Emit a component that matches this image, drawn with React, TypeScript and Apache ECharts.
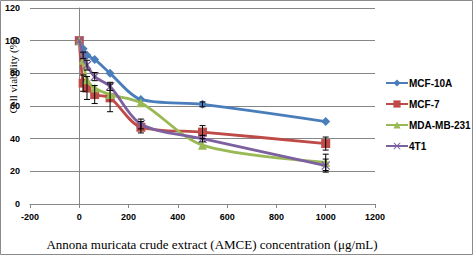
import React, { useEffect, useRef } from "react";
import * as echarts from "echarts";

const concentrations = [0, 15.6, 31.25, 62.5, 125, 250, 500, 1000];
const seriesNames = ["MCF-10A", "MCF-7", "MDA-MB-231", "4T1"];
const mcf10a = [100, 95, 91, 88.5, 80, 64, 61, 50.5];
const mcf7 = [100, 74, 71, 67, 65, 47, 44, 37];
const mdamb231 = [100, 88, 76, 71, 67, 62, 36, 25.5];
const t4t1 = [100, 91, 85, 78, 72, 49, 40, 23.5];
const mcf10aErr = [0, 1, 1, 1, 1, 1, 1.5, 1];
const mcf7Err = [0, 5, 7, 5.5, 8.5, 3.5, 4, 4];
const mdamb231Err = [0, 1, 1, 1, 1, 1, 1, 5];
const t4t1Err = [0, 2, 3, 2.5, 2.5, 3, 2, 4];
const xTicks = { min: -200, max: 1200, interval: 200 };
const yTicks = { min: 0, max: 120, interval: 20 };
const xTitle = "Annona muricata crude extract (AMCE) concentration (μg/mL)";
const yTitle = "Cell viability (%)";

const colors = ["#4A7EBB", "#BE4B48", "#98B954", "#7D60A0"];
const symbols = [
  "diamond",
  "rect",
  "triangle",
  "path://M0,1L1,0L5,4L9,0L10,1L6,5L10,9L9,10L5,6L1,10L0,9L4,5Z",
];
const symbolSizes = [9, 9, 9, 9];

export default function App() {
  const ref = useRef<HTMLDivElement>(null);
  useEffect(() => {
    document.body.style.margin = "0";
    if (!ref.current) return;
    const chart = echarts.init(ref.current, null, { renderer: "svg" });
    const values = [mcf10a, mcf7, mdamb231, t4t1];
    const errs = [mcf10aErr, mcf7Err, mdamb231Err, t4t1Err];
    const lineSeries = values.map((vals, i) => ({
      name: seriesNames[i],
      type: "line",
      smooth: 0.3,
      data: concentrations.map((c, j) => [c, vals[j]]),
      symbol: symbols[i],
      symbolSize: symbolSizes[i],
      lineStyle: { width: 2.8, color: colors[i] },
      itemStyle: { color: colors[i] },
      z: 3 + i,
    }));
    const errSeries = values.map((vals, i) => ({
      type: "custom",
      name: seriesNames[i] + " err",
      z: 10,
      data: concentrations.map((c, j) => [c, vals[j], errs[i][j]]),
      renderItem: (params: any, api: any) => {
        const x = api.value(0);
        const y = api.value(1);
        const e = api.value(2);
        if (!e || e < 1.5) return null;
        const top = api.coord([x, y + e]);
        const bot = api.coord([x, y - e]);
        const cw = 3;
        const st = { stroke: "#000", lineWidth: 1 };
        return {
          type: "group",
          children: [
            { type: "line", shape: { x1: top[0], y1: top[1], x2: bot[0], y2: bot[1] }, style: st },
            { type: "line", shape: { x1: top[0] - cw, y1: top[1], x2: top[0] + cw, y2: top[1] }, style: st },
            { type: "line", shape: { x1: bot[0] - cw, y1: bot[1], x2: bot[0] + cw, y2: bot[1] }, style: st },
          ],
        };
      },
    }));
    const axisLabelStyle = {
      fontFamily: "Liberation Sans",
      fontWeight: "bold",
      fontSize: 9,
      color: "#000",
      formatter: (v: number) => String(v),
    };
    chart.setOption({
      animation: false,
      grid: {
        left: 30,
        right: 98,
        top: 8,
        bottom: 51,
        containLabel: false,
        outerBoundsMode: "none",
      },
      legend: {
        data: seriesNames,
        orient: "vertical",
        left: 380,
        top: 73,
        itemWidth: 22,
        itemHeight: 9,
        itemGap: 11,
        textStyle: {
          fontFamily: "Liberation Sans",
          fontWeight: "bold",
          fontSize: 10,
          color: "#000",
          padding: [0, 0, 0, -4],
        },
      },
      xAxis: {
        type: "value",
        min: xTicks.min,
        max: xTicks.max,
        interval: xTicks.interval,
        axisLine: { show: true, onZero: true, lineStyle: { color: "#868686", width: 1 } },
        axisTick: { show: true, length: 4, lineStyle: { color: "#868686" } },
        axisLabel: { ...axisLabelStyle, margin: 8 },
        splitLine: { show: false },
      },
      yAxis: {
        type: "value",
        min: yTicks.min,
        max: yTicks.max,
        interval: yTicks.interval,
        name: yTitle,
        nameLocation: "middle",
        nameRotate: 90,
        nameGap: 12,
        nameMoveOverlap: false,
        nameTextStyle: {
          fontFamily: "Liberation Serif",
          fontSize: 11,
          color: "#000",
          padding: [0, 0, 0, 62],
        },
        axisLine: { show: true, onZero: true, lineStyle: { color: "#868686", width: 1 } },
        axisTick: { show: true, length: 4, lineStyle: { color: "#868686" } },
        axisLabel: { ...axisLabelStyle, margin: 10 },
        splitLine: { show: true, lineStyle: { color: "#868686", width: 1 } },
      },
      graphic: [
        {
          type: "rect",
          silent: true,
          z: -1,
          shape: { x: 0.5, y: 0.5, width: 472, height: 254 },
          style: { fill: "none", stroke: "#8a8a8a", lineWidth: 1 },
        },
        {
          type: "text",
          x: 212,
          y: 244,
          style: {
            text: xTitle,
            fontFamily: "Liberation Serif",
            fontSize: 13,
            fill: "#000",
            align: "center",
            verticalAlign: "middle",
          },
        },
      ],
      series: [...lineSeries, ...errSeries],
    });
    return () => chart.dispose();
  }, []);
  return <div ref={ref} style={{ width: 473, height: 255 }} />;
}
